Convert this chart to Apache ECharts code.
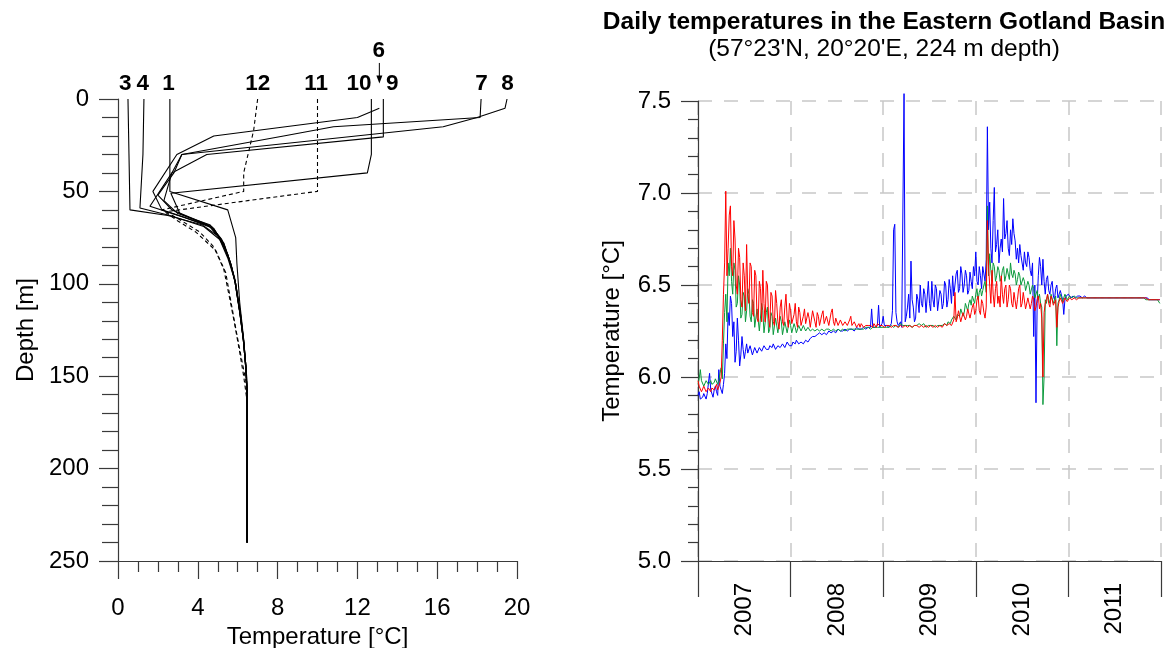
<!DOCTYPE html>
<html>
<head>
<meta charset="utf-8">
<script src="https://cdn.jsdelivr.net/npm/echarts@6/dist/echarts.min.js"></script>
<style>
  html, body { margin: 0; padding: 0; background: #fff; }
  #chart { width: 1169px; height: 648px; }
</style>
</head>
<body>
<div id="chart"></div>
<script>
// ---------------- Left panel: temperature profiles [temperature °C, depth m] ----------------
const profile3  = [[0.5,0],[0.55,30],[0.6,60],[2.5,63],[4.2,68],[5.0,74],[5.5,84],[5.85,97],[6.15,117],[6.3,131],[6.42,146],[6.47,160],[6.47,240]];
const profile4  = [[1.3,0],[1.25,30],[1.1,59],[2.6,63],[4.3,69],[5.1,76],[5.5,86],[5.85,98],[6.1,115],[6.28,130],[6.4,145],[6.47,158],[6.47,240]];
const profile1  = [[2.6,0],[2.6,30],[2.6,50],[5.5,60],[5.9,75],[5.96,89],[6.1,110],[6.3,130],[6.45,150],[6.47,160],[6.47,240]];
const profile10 = [[12.7,0],[12.7,30],[12.5,40],[2.65,51],[3.1,62],[4.6,69],[5.3,78],[5.65,89],[5.9,100],[6.15,117],[6.3,131],[6.43,147],[6.47,160],[6.47,240]];
const profile6  = [[13.1,5],[12.0,10],[4.8,20],[2.95,30],[1.75,50],[2.2,60],[4.7,69],[5.3,78],[5.65,89],[5.9,100],[6.12,116],[6.28,130],[6.4,145],[6.47,158],[6.47,240]];
const profile9  = [[13.3,0],[13.3,20.5],[4.45,30],[2.7,40],[1.6,58],[3.3,64],[4.8,70],[5.35,80],[5.7,91],[5.88,100],[6.12,117],[6.3,132],[6.42,147],[6.47,160],[6.47,240]];
const profile7  = [[18.2,0],[18.15,10],[10.8,15],[8.3,20],[3.2,30],[2.7,40],[2.3,55],[3.0,62],[4.6,68],[5.2,76],[5.6,88],[5.88,99],[6.13,117],[6.3,131],[6.43,147],[6.47,160],[6.47,240]];
const profile8  = [[19.5,0],[19.4,5],[18.0,10],[16.3,15],[3.2,30],[2.8,40],[2.0,52],[2.7,60],[4.5,68],[5.1,75],[5.55,86],[5.85,98],[6.1,115],[6.28,130],[6.4,145],[6.47,158],[6.47,240]];
const profile12 = [[7.0,0],[6.8,17],[6.3,40],[6.3,50],[2.2,60],[3.0,66],[3.9,72],[4.9,82],[5.4,94],[5.7,112],[5.95,127],[6.2,141],[6.4,152],[6.47,165]];
const profile11 = [[10.0,0],[10.0,50],[6.5,55],[2.4,61],[3.2,66],[4.1,72],[4.8,80],[5.3,92],[5.6,108],[5.85,122],[6.1,137],[6.3,150],[6.45,162]];

const solidProfiles  = [profile3, profile4, profile1, profile10, profile6, profile9, profile7, profile8];
const dashedProfiles = [profile12, profile11];

// profile labels: [temperature position, depth position (above the panel), text]
const profileLabels = [[0.39,-8,'3'],[1.27,-8,'4'],[2.56,-8,'1'],[7.03,-8,'12'],[9.96,-8,'11'],[12.1,-8,'10'],[13.77,-8,'9'],[18.25,-8,'7'],[19.55,-8,'8'],[13.1,-26,'6']];
const arrow6 = [[13.1,-19.5],[13.1,-10.5]];

const tempTicksLeft = { min: 0, max: 20, interval: 4 };
const depthTicks = { min: 0, max: 250, interval: 50 };

// ---------------- Right panel: daily temperatures (sampled every 0.0125 yr from 2007.0) ----------------
const startYear = 2007;
const sampleStep = 0.0125;
const yearLabels = ['2007','2008','2009','2010','2011'];

const blue = [
5.90,5.92,5.88,5.87,5.89,5.91,5.90,5.88,5.91,5.90,6.02,5.93,5.92,5.89,5.93,5.95,5.92,5.90,6.04,5.95,
5.93,5.91,5.96,6.02,6.18,6.10,6.35,6.28,6.44,6.40,6.22,6.30,6.08,6.14,6.32,6.20,6.06,6.12,6.22,6.15,
6.10,6.14,6.18,6.13,6.12,6.17,6.16,6.12,6.13,6.16,6.15,6.13,6.14,6.16,6.16,6.14,6.15,6.17,6.16,6.15,
6.16,6.15,6.17,6.17,6.16,6.18,6.17,6.15,6.16,6.17,6.18,6.16,6.17,6.18,6.18,6.16,6.17,6.19,6.18,6.17,
6.18,6.17,6.19,6.19,6.18,6.20,6.19,6.18,6.18,6.19,6.19,6.18,6.19,6.20,6.20,6.19,6.20,6.21,6.21,6.22,
6.23,6.22,6.22,6.23,6.23,6.24,6.24,6.23,6.23,6.24,6.24,6.23,6.24,6.25,6.25,6.24,6.24,6.25,6.25,6.24,
6.25,6.26,6.25,6.25,6.26,6.25,6.25,6.26,6.26,6.25,6.26,6.26,6.25,6.26,6.26,6.25,6.26,6.27,6.26,6.26,
6.27,6.26,6.26,6.27,6.27,6.26,6.27,6.27,6.26,6.27,6.37,6.27,6.28,6.27,6.27,6.28,6.39,6.27,6.28,6.29,
6.33,6.28,6.27,6.28,6.28,6.27,6.27,6.29,6.36,6.80,6.83,6.35,6.30,6.28,6.28,6.30,6.27,6.28,7.54,6.30,
6.33,6.38,6.45,6.32,6.63,6.42,6.38,6.30,6.32,6.45,6.42,6.35,6.50,6.40,6.38,6.48,6.45,6.35,6.36,6.52,
6.40,6.36,6.52,6.42,6.38,6.50,6.48,6.36,6.35,6.47,6.45,6.37,6.40,6.52,6.50,6.38,6.42,6.53,6.48,6.40,
6.55,6.44,6.45,6.56,6.58,6.46,6.48,6.60,6.56,6.46,6.50,6.58,6.55,6.45,6.47,6.57,6.52,6.48,6.60,6.55,
6.68,6.52,6.50,6.60,6.55,6.48,6.60,6.56,6.52,6.64,7.36,6.80,6.95,6.70,6.62,6.85,7.03,6.68,6.72,6.80,
6.62,6.70,6.75,6.68,6.97,6.75,6.78,6.85,6.70,6.66,6.80,6.72,6.86,6.78,6.74,6.64,6.70,6.62,6.72,6.66,
6.65,6.58,6.68,6.62,6.60,6.68,6.65,6.58,6.55,6.62,6.22,6.50,5.86,6.40,6.55,6.65,6.60,6.50,6.64,6.52,
6.45,6.53,6.55,6.47,6.45,6.50,6.52,6.44,6.42,6.48,6.50,6.43,6.45,6.47,6.48,6.42,6.34,6.42,6.44,6.45,
6.45,6.44,6.43,6.44,6.44,6.43,6.43,6.44,6.44,6.43,6.44,6.44,6.43,6.44,6.44,6.43,6.43,6.43,6.43,6.43,
6.43,6.43,6.43,6.43,6.43,6.43,6.43,6.43,6.43,6.43,6.43,6.43,6.43,6.43,6.43,6.43,6.43,6.43,6.43,6.43,
6.43,6.43,6.43,6.43,6.43,6.43,6.43,6.43,6.43,6.43,6.43,6.43,6.43,6.43,6.43,6.43,6.43,6.43,6.43,6.43,
6.43,6.43,6.43,6.43,6.43,6.43,6.43,6.43,6.43,6.43,6.42,6.42,6.42,6.42,6.42,6.42,6.42,6.42,6.42,6.42
];
const green = [
5.96,5.99,6.04,5.98,5.97,5.95,5.96,5.98,5.97,5.96,5.97,5.98,5.96,5.95,5.97,5.99,6.00,5.96,5.98,6.02,
6.05,5.99,6.18,6.35,6.45,6.30,6.62,6.55,6.70,6.52,6.45,6.62,6.58,6.38,6.40,6.55,6.50,6.32,6.34,6.46,
6.44,6.30,6.36,6.48,6.45,6.33,6.30,6.42,6.40,6.27,6.28,6.37,6.38,6.25,6.26,6.40,6.36,6.24,6.25,6.35,
6.38,6.24,6.26,6.35,6.33,6.23,6.24,6.32,6.31,6.24,6.25,6.33,6.30,6.23,6.24,6.30,6.29,6.24,6.25,6.31,
6.28,6.24,6.25,6.29,6.27,6.24,6.25,6.28,6.27,6.25,6.26,6.28,6.27,6.25,6.26,6.27,6.26,6.25,6.25,6.26,
6.26,6.25,6.25,6.26,6.26,6.25,6.25,6.26,6.26,6.25,6.25,6.26,6.25,6.26,6.26,6.25,6.25,6.26,6.26,6.25,
6.25,6.26,6.26,6.25,6.25,6.26,6.26,6.25,6.26,6.26,6.25,6.26,6.26,6.26,6.27,6.26,6.26,6.26,6.25,6.26,
6.26,6.26,6.27,6.26,6.26,6.27,6.26,6.27,6.27,6.26,6.26,6.27,6.27,6.27,6.28,6.27,6.26,6.27,6.27,6.27,
6.28,6.27,6.26,6.27,6.27,6.27,6.28,6.28,6.27,6.27,6.28,6.28,6.27,6.27,6.28,6.29,6.29,6.28,6.27,6.28,
6.28,6.28,6.29,6.28,6.28,6.27,6.27,6.28,6.29,6.28,6.28,6.29,6.29,6.28,6.28,6.29,6.28,6.27,6.27,6.28,
6.28,6.28,6.27,6.28,6.29,6.27,6.28,6.28,6.27,6.28,6.29,6.28,6.28,6.29,6.29,6.28,6.30,6.29,6.29,6.31,
6.31,6.33,6.32,6.31,6.34,6.35,6.33,6.37,6.36,6.33,6.35,6.40,6.38,6.36,6.40,6.42,6.39,6.44,6.43,6.40,
6.45,6.48,6.42,6.46,6.48,6.44,6.47,6.50,6.52,6.46,6.93,6.55,6.67,6.58,6.52,6.62,6.60,6.52,6.55,6.60,
6.58,6.52,6.54,6.58,6.60,6.52,6.55,6.59,6.58,6.53,6.62,6.56,6.54,6.58,6.56,6.50,6.53,6.57,6.55,6.50,
6.50,6.54,6.52,6.47,6.48,6.52,6.50,6.45,6.46,6.50,6.48,6.43,6.44,6.47,6.42,6.45,6.40,6.38,5.85,6.00,
6.42,6.40,6.45,6.42,6.40,6.45,6.44,6.40,6.42,6.44,6.17,6.40,6.42,6.45,6.44,6.41,6.42,6.45,6.44,6.42,
6.43,6.44,6.44,6.43,6.43,6.44,6.44,6.43,6.43,6.43,6.43,6.43,6.43,6.43,6.43,6.43,6.43,6.43,6.43,6.43,
6.43,6.43,6.43,6.43,6.43,6.43,6.43,6.43,6.43,6.43,6.43,6.43,6.43,6.43,6.43,6.43,6.43,6.43,6.43,6.43,
6.43,6.43,6.43,6.43,6.43,6.43,6.43,6.43,6.43,6.43,6.43,6.43,6.43,6.43,6.43,6.43,6.43,6.43,6.43,6.43,
6.43,6.43,6.43,6.43,6.43,6.43,6.42,6.42,6.42,6.42,6.42,6.42,6.42,6.42,6.42,6.42,6.42,6.42,6.41,6.40
];
const red = [
5.98,5.95,5.94,5.92,5.93,5.95,5.94,5.92,5.93,5.94,5.93,5.92,5.94,5.95,5.93,5.94,5.96,5.93,5.95,5.97,
6.00,6.20,6.45,6.62,7.01,6.55,6.70,6.88,6.93,6.60,6.55,6.85,6.75,6.50,6.45,6.70,6.65,6.42,6.38,6.62,
6.55,6.36,6.72,6.45,6.40,6.62,6.60,6.35,6.33,6.58,6.55,6.32,6.30,6.52,6.48,6.30,6.58,6.40,6.30,6.52,
6.50,6.32,6.27,6.46,6.44,6.30,6.28,6.47,6.40,6.30,6.26,6.38,6.42,6.30,6.28,6.38,6.45,6.32,6.27,6.40,
6.36,6.29,6.28,6.34,6.40,6.30,6.27,6.38,6.35,6.28,6.29,6.33,6.37,6.29,6.28,6.35,6.32,6.27,6.28,6.36,
6.35,6.30,6.27,6.35,6.33,6.28,6.29,6.34,6.36,6.29,6.28,6.33,6.34,6.28,6.29,6.35,6.37,6.30,6.28,6.32,
6.33,6.28,6.29,6.31,6.32,6.28,6.27,6.30,6.31,6.28,6.28,6.31,6.33,6.28,6.27,6.30,6.30,6.27,6.28,6.29,
6.27,6.29,6.28,6.27,6.27,6.28,6.29,6.28,6.27,6.28,6.28,6.27,6.29,6.28,6.27,6.29,6.28,6.28,6.27,6.28,
6.28,6.27,6.28,6.28,6.27,6.28,6.28,6.27,6.28,6.28,6.27,6.28,6.28,6.27,6.28,6.28,6.28,6.27,6.27,6.28,
6.28,6.27,6.28,6.28,6.28,6.27,6.27,6.28,6.28,6.28,6.28,6.27,6.27,6.28,6.28,6.27,6.27,6.28,6.28,6.27,
6.27,6.28,6.28,6.27,6.27,6.28,6.28,6.27,6.27,6.28,6.28,6.27,6.28,6.29,6.29,6.28,6.28,6.29,6.30,6.28,
6.29,6.31,6.46,6.30,6.32,6.36,6.35,6.30,6.31,6.35,6.36,6.31,6.33,6.37,6.38,6.32,6.35,6.38,6.40,6.34,
6.36,6.42,6.44,6.36,6.34,6.42,6.40,6.35,6.32,6.38,6.85,6.60,6.50,6.40,6.58,6.45,6.38,6.48,6.52,6.40,
6.44,6.38,6.55,6.45,6.40,6.48,6.50,6.38,6.42,6.50,6.48,6.40,6.38,6.46,6.47,6.37,6.42,6.48,6.50,6.38,
6.40,6.46,6.45,6.37,6.38,6.43,6.44,6.37,6.40,6.44,6.42,6.36,6.38,6.42,6.44,6.37,6.40,6.32,6.00,6.35,
6.40,6.42,6.45,6.40,6.38,6.44,6.42,6.39,6.40,6.42,6.27,6.38,6.41,6.43,6.43,6.40,6.41,6.43,6.42,6.41,
6.42,6.43,6.43,6.42,6.42,6.43,6.43,6.42,6.42,6.43,6.43,6.43,6.43,6.43,6.43,6.43,6.43,6.43,6.43,6.43,
6.43,6.43,6.43,6.43,6.43,6.43,6.43,6.43,6.43,6.43,6.43,6.43,6.43,6.43,6.43,6.43,6.43,6.43,6.43,6.43,
6.43,6.43,6.43,6.43,6.43,6.43,6.43,6.43,6.43,6.43,6.43,6.43,6.43,6.43,6.43,6.43,6.43,6.43,6.43,6.43,
6.43,6.43,6.43,6.43,6.43,6.43,6.43,6.43,6.42,6.42,6.42,6.42,6.42,6.42,6.42,6.42,6.42,6.42,6.42,6.42
];
const tempTicksRight = { min: 5.0, max: 7.5, interval: 0.5 };
const yearTicks = { min: 2007, max: 2012, interval: 1 };

// ---------------- build option ----------------
const FONT = 'Liberation Sans, Arial, sans-serif';
const AX = '#3a3a3a';
const FS = 24;
const toPairs = arr => arr.map((v, i) => [startYear + i * sampleStep, v]);

const series = [];
solidProfiles.forEach(p => series.push({
  type: 'line', xAxisIndex: 0, yAxisIndex: 0, data: p, showSymbol: false, symbol: 'none',
  lineStyle: { color: '#000', width: 1.1 }, silent: true, z: 3
}));
dashedProfiles.forEach(p => series.push({
  type: 'line', xAxisIndex: 0, yAxisIndex: 0, data: p, showSymbol: false, symbol: 'none',
  lineStyle: { color: '#000', width: 1.1, type: [4, 3] }, silent: true, z: 3
}));
series.push({
  type: 'scatter', xAxisIndex: 0, yAxisIndex: 0, clip: false, silent: true,
  data: profileLabels, symbolSize: 1, itemStyle: { color: 'rgba(0,0,0,0)', opacity: 1 },
  label: { show: true, position: [0, 0], align: 'center', verticalAlign: 'middle',
           formatter: p => p.value[2], textBorderWidth: 0, opacity: 1,
           fontFamily: FONT, fontSize: 22.5, fontWeight: 'bold', color: '#000' }
});
series.push({
  type: 'line', xAxisIndex: 0, yAxisIndex: 0, clip: false, silent: true,
  data: [
    { value: arrow6[0], symbol: 'none' },
    { value: arrow6[1], symbol: 'triangle', symbolSize: [6, 8], symbolRotate: 180 }
  ],
  showSymbol: true, lineStyle: { color: '#000', width: 1 }, itemStyle: { color: '#000' }
});
[['blue', blue, '#0000ff'], ['green', green, '#0b9a3c'], ['red', red, '#ff0000']].forEach(([n, arr, c]) => series.push({
  name: n, type: 'line', xAxisIndex: 1, yAxisIndex: 1, data: toPairs(arr), showSymbol: false, symbol: 'none',
  clip: false, lineStyle: { color: c, width: 1 }, silent: true, z: 3
}));

const dashGrid = { show: true, lineStyle: { color: '#c8c8c8', width: 1.5, type: [14, 12] } };

const option = {
  animation: false,
  backgroundColor: '#fff',
  textStyle: { fontFamily: FONT },
  title: [{
    text: 'Daily temperatures in the Eastern Gotland Basin',
    subtext: "(57°23'N, 20°20'E, 224 m depth)",
    left: 879, top: 5, textAlign: 'center', itemGap: 2,
    textStyle: { fontFamily: FONT, fontSize: 24.5, fontWeight: 'bold', color: '#000' },
    subtextStyle: { fontFamily: FONT, fontSize: 24.5, color: '#000' }
  }],
  grid: [
    { left: 118, top: 99, width: 399, height: 462, containLabel: false, outerBoundsMode: 'none' },
    { left: 698, top: 101, width: 463, height: 460, containLabel: false, outerBoundsMode: 'none' }
  ],
  xAxis: [
    { gridIndex: 0, type: 'value', position: 'bottom', ...tempTicksLeft,
      axisLine: { show: true, onZero: false, lineStyle: { color: AX, width: 1.2 } },
      axisTick: { show: true, length: 18, lineStyle: { color: AX, width: 1.2 } },
      minorTick: { show: true, splitNumber: 4, length: 11, lineStyle: { color: AX, width: 1.2 } },
      axisLabel: { fontFamily: FONT, fontSize: FS, color: '#000', margin: 35 },
      splitLine: { show: false },
      name: 'Temperature [°C]', nameLocation: 'middle', nameGap: 58,
      nameTextStyle: { fontFamily: FONT, fontSize: FS, color: '#000' } },
    { gridIndex: 1, type: 'value', position: 'bottom', ...yearTicks,
      axisLine: { show: true, onZero: false, lineStyle: { color: AX, width: 1.2 } },
      axisTick: { show: true, length: 36, lineStyle: { color: AX, width: 1.2 } },
      axisLabel: { show: false },
      splitLine: dashGrid },
    { gridIndex: 1, type: 'category', position: 'bottom', data: yearLabels, boundaryGap: true,
      axisLine: { show: false }, axisTick: { show: false }, splitLine: { show: false },
      axisLabel: { fontFamily: FONT, fontSize: FS, color: '#000', rotate: 90, margin: 22 } }
  ],
  yAxis: [
    { gridIndex: 0, type: 'value', inverse: true, ...depthTicks,
      axisLine: { show: true, onZero: false, lineStyle: { color: AX, width: 1.2 } },
      axisTick: { show: true, length: 19, lineStyle: { color: AX, width: 1.2 } },
      minorTick: { show: true, splitNumber: 5, length: 16, lineStyle: { color: AX, width: 1.2 } },
      axisLabel: { fontFamily: FONT, fontSize: FS, color: '#000', margin: 29 },
      splitLine: { show: false },
      name: 'Depth [m]', nameLocation: 'middle', nameGap: 80, nameRotate: 90,
      nameTextStyle: { fontFamily: FONT, fontSize: FS, color: '#000' } },
    { gridIndex: 1, type: 'value', ...tempTicksRight,
      axisLine: { show: true, onZero: false, lineStyle: { color: AX, width: 1.2 } },
      axisTick: { show: true, length: 17, lineStyle: { color: AX, width: 1.2 } },
      minorTick: { show: true, splitNumber: 5, length: 10, lineStyle: { color: AX, width: 1.2 } },
      axisLabel: { fontFamily: FONT, fontSize: FS, color: '#000', margin: 27, formatter: v => v.toFixed(1) },
      splitLine: dashGrid,
      name: 'Temperature [°C]', nameLocation: 'middle', nameGap: 74, nameRotate: 90,
      nameTextStyle: { fontFamily: FONT, fontSize: FS, color: '#000' } }
  ],
  series
};

const chart = echarts.init(document.getElementById('chart'), null, { renderer: 'canvas', width: 1169, height: 648 });
chart.setOption(option);
</script>
</body>
</html>
